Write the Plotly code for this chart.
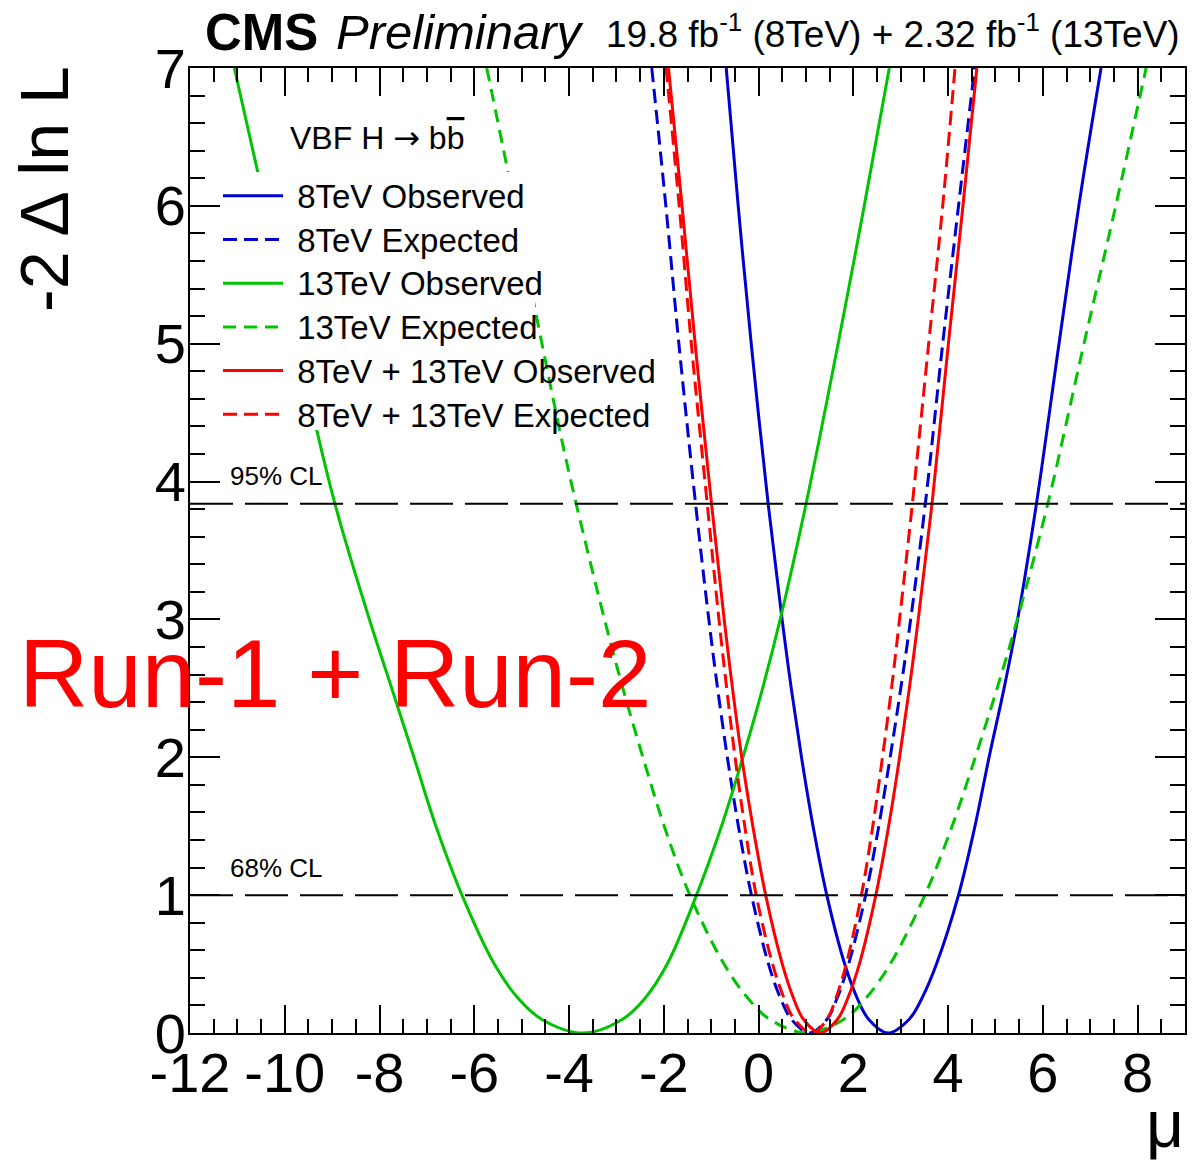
import plotly.graph_objects as go

# ---------------- data ----------------
# -2 Delta ln L levels at which each curve was read
lv = [7, 6, 5, 3.84, 3, 2.5, 2, 1.5, 1, 0.5, 0.25, 0.1, 0, 0.1, 0.25, 0.5, 1, 1.5, 2, 2.5, 3, 3.84, 5, 6, 7]

mu_obs8 = [-0.683, -0.43, -0.155, 0.202, 0.496, 0.69, 0.906, 1.15, 1.44, 1.818, 2.085, 2.322, 2.73,
           3.179, 3.445, 3.755, 4.22, 4.567, 4.865, 5.181, 5.467, 5.865, 6.341, 6.759, 7.228]
nll_obs8 = lv

mu_exp8 = [-2.254, -1.957, -1.682, -1.33, -1.05, -0.865, -0.659, -0.426, -0.15, 0.21, 0.465, 0.691, 1.08,
           1.444, 1.655, 1.90, 2.26, 2.537, 2.777, 3.001, 3.21, 3.52, 3.886, 4.22, 4.559]
nll_exp8 = lv

mu_obs13 = [-11.065, -10.409, -9.747, -8.942, -8.213, -7.742, -7.274, -6.809, -6.26, -5.577, -5.07, -4.58, -3.71,
            -2.869, -2.40, -1.928, -1.31, -0.783, -0.33, 0.085, 0.456, 1.003, 1.679, 2.23, 2.759]
nll_obs13 = lv

mu_exp13 = [-5.737, -5.285, -4.729, -4.165, -3.85, -3.251, -2.864, -2.441, -1.991, -1.45, -0.729, -0.22, 0.232, 1.01,
            1.801, 2.26, 2.778, 3.51, 4.084, 4.574, 5.034, 5.461, 6.105, 6.868, 7.538, 8.18]
nll_exp13 = [7, 6.24, 5.27, 4.32, 3.84, 3, 2.5, 2, 1.5, 1, 0.5, 0.25, 0.1, 0,
             0.1, 0.25, 0.5, 1, 1.5, 2, 2.5, 3, 3.84, 5, 6, 7]

mu_obscomb = [-1.901, -1.615, -1.339, -0.993, -0.726, -0.55, -0.355, -0.121, 0.15, 0.501, 0.74, 0.946, 1.30,
              1.667, 1.88, 2.127, 2.475, 2.745, 2.976, 3.182, 3.37, 3.661, 4.006, 4.313, 4.607]
nll_obscomb = lv

mu_expcomb = [-1.952, -1.675, -1.419, -1.084, -0.836, -0.673, -0.496, -0.291, -0.05, 0.296, 0.54, 0.754, 1.13,
              1.446, 1.63, 1.851, 2.17, 2.41, 2.615, 2.806, 2.975, 3.246, 3.59, 3.886, 4.146]
nll_expcomb = lv

cl_levels = [1.0, 3.84]
cl_labels = ["68% CL", "95% CL"]
x_ticks = [-12, -10, -8, -6, -4, -2, 0, 2, 4, 6, 8]
y_ticks = [0, 1, 2, 3, 4, 5, 6, 7]

# ---------------- styling ----------------
FONT = "Liberation Sans, Arial, Helvetica, sans-serif"
BLUE = "#0000d2"
GREEN = "#00c400"
RED = "#ff0000"

W, H = 1203, 1160
L, R, T, B = 190, 18, 68, 127
PW, PH = W - L - R, H - T - B


def xp(px):
    return (px - L) / PW


def yp(py):
    return (H - B - py) / PH


NB = "\u00a0"
series = [
    ("8TeV Observed", mu_obs8, nll_obs8, BLUE, "solid"),
    ("8TeV Expected", mu_exp8, nll_exp8, BLUE, "14px,7px"),
    ("13TeV Observed", mu_obs13, nll_obs13, GREEN, "solid"),
    ("13TeV Expected", mu_exp13, nll_exp13, GREEN, "13px,8px"),
    ("8TeV + 13TeV Observed", mu_obscomb, nll_obscomb, RED, "solid"),
    ("8TeV + 13TeV Expected", mu_expcomb, nll_expcomb, RED, "14px,7px"),
]

fig = go.Figure()
for name, xs, ys, col, dash in series:
    fig.add_trace(go.Scatter(
        x=xs, y=ys, mode="lines",
        name="<span style='font-size:33px'>" + NB + name + "</span>",
        line=dict(color=col, width=3, dash=dash, shape="spline", smoothing=1.0),
        hoverinfo="skip",
    ))

# confidence level lines
for lvl in cl_levels:
    fig.add_shape(type="line", xref="x", yref="y", x0=-12, x1=9, y0=lvl, y1=lvl,
                  line=dict(color="black", width=2, dash="43px,12px"), layer="above")

# white legend box that hides curves behind it
fig.add_shape(type="rect", xref="paper", yref="paper",
              x0=xp(224), x1=xp(535), y0=yp(430), y1=yp(172),
              line=dict(width=0), fillcolor="white", layer="above")

annotations = [
    dict(text="<b>CMS</b>", x=xp(203), y=yp(32), xanchor="left", yanchor="middle",
         font=dict(size=51, family=FONT, color="black")),
    dict(text="<i>Preliminary</i>", x=xp(334), y=yp(32), xanchor="left", yanchor="middle",
         font=dict(size=49, family=FONT, color="black")),
    dict(text="19.8 fb<sup>-1</sup> (8TeV) + 2.32 fb<sup>-1</sup> (13TeV)", x=xp(1182), y=yp(31),
         xanchor="right", yanchor="middle", font=dict(size=37, family=FONT, color="black")),
    dict(text="-2 \u0394 ln L", x=xp(44), y=yp(189), xanchor="center", yanchor="middle", textangle=-90,
         font=dict(size=68, family=FONT, color="black")),
    dict(text="\u03bc", x=xp(1186), y=yp(1124), xanchor="right", yanchor="middle",
         font=dict(size=66, family=FONT, color="black")),
    dict(text="Run-1 + Run-2", x=xp(17), y=yp(673), xanchor="left", yanchor="middle",
         font=dict(size=96, family=FONT, color=RED)),
    dict(text="VBF H <span style='font-family:DejaVu Sans'>\u2192</span> b<span style='text-decoration:overline'>b</span>",
         x=xp(288), y=yp(138), xanchor="left", yanchor="middle",
         font=dict(size=32, family=FONT, color="black")),
]
for lvl, lab in zip(cl_levels, cl_labels):
    annotations.append(dict(text=lab, xref="x", yref="y", x=-11.2, y=lvl + 0.2,
                            xanchor="left", yanchor="middle",
                            font=dict(size=26, family=FONT, color="black")))
for a in annotations:
    a.setdefault("xref", "paper")
    a.setdefault("yref", "paper")
    a["showarrow"] = False

fig.update_layout(
    width=W, height=H,
    margin=dict(l=L, r=R, t=T, b=B, pad=0),
    paper_bgcolor="white", plot_bgcolor="white",
    font=dict(family=FONT, color="black"),
    annotations=annotations,
    showlegend=True,
    legend=dict(
        x=xp(218), y=yp(169), xanchor="left", yanchor="top",
        bgcolor="rgba(0,0,0,0)", borderwidth=0,
        font=dict(size=31.3, family=FONT, color="black"),
        itemwidth=60, traceorder="normal",
    ),
    xaxis=dict(
        range=[-12, 9], tickmode="array", tickvals=x_ticks, ticktext=[str(v) for v in x_ticks],
        showgrid=False, zeroline=False, showline=True, linecolor="black", linewidth=2,
        mirror="ticks", ticks="inside", ticklen=28, tickwidth=1.5, tickcolor="black",
        tickfont=dict(size=56, family=FONT, color="black"), ticklabelstandoff=-10,
        minor=dict(ticks="inside", ticklen=14, tickwidth=1.5, tickcolor="black", dtick=0.5, showgrid=False),
    ),
    yaxis=dict(
        range=[0, 7], tickmode="array", tickvals=y_ticks, ticktext=[str(v) for v in y_ticks],
        showgrid=False, zeroline=False, showline=True, linecolor="black", linewidth=2,
        mirror="ticks", ticks="inside", ticklen=30, tickwidth=1.5, tickcolor="black",
        tickfont=dict(size=56, family=FONT, color="black"), ticklabelstandoff=-9,
        minor=dict(ticks="inside", ticklen=15, tickwidth=1.5, tickcolor="black", dtick=0.2, showgrid=False),
    ),
)

fig.write_html("out.html")
